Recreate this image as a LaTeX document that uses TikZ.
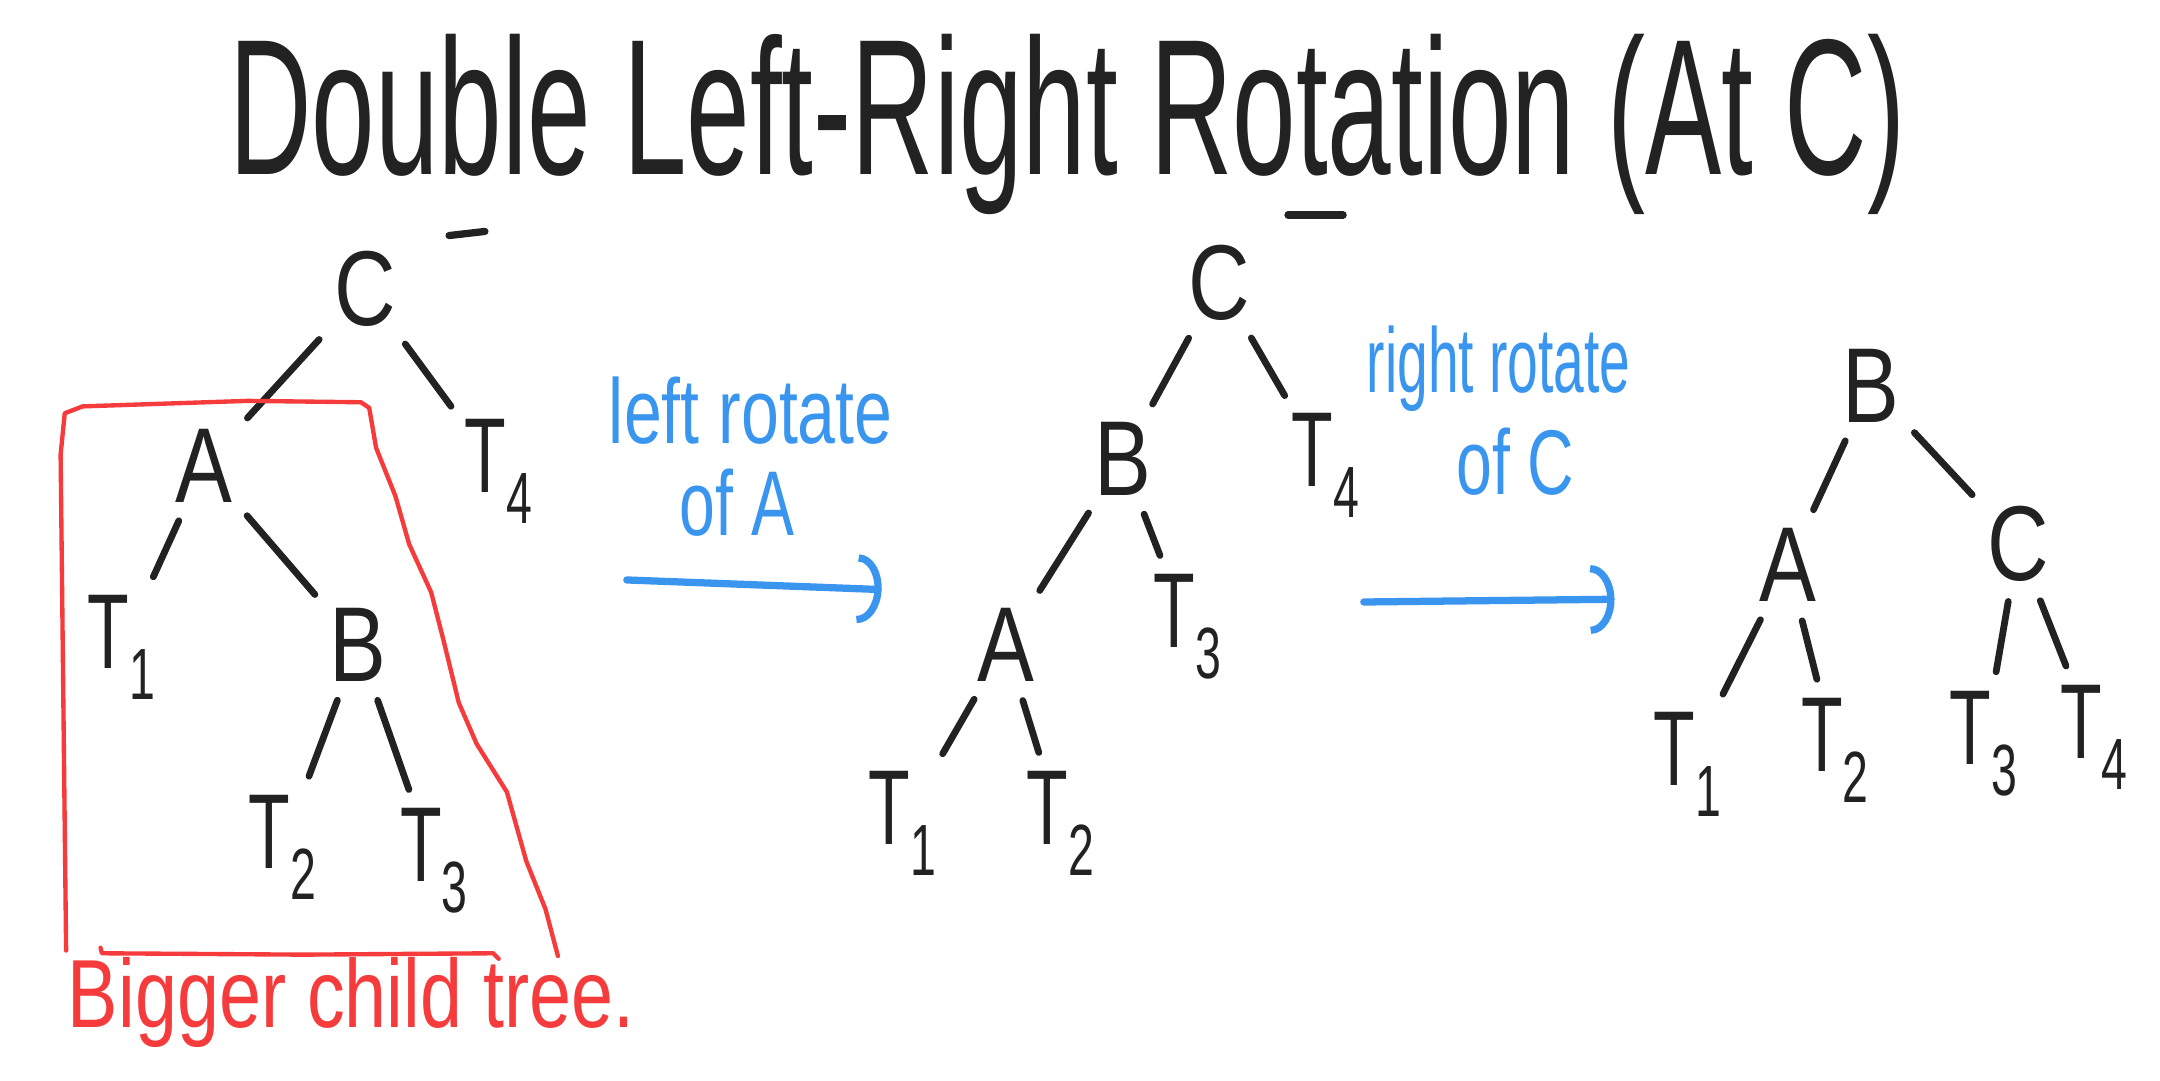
\documentclass[tikz,border=0pt]{standalone}
\usepackage{fontspec}
\setmainfont{Liberation Sans}
\usetikzlibrary{arrows.meta}
\definecolor{ink}{HTML}{222222}
\definecolor{penblue}{HTML}{3A95EE}
\definecolor{penred}{HTML}{F53B3B}
\tikzstyle{key} = [inner sep=2pt, text=ink, font=\fontsize{44}{44}\selectfont]
\tikzstyle{edge} = [draw=ink, line width=2.8pt, line cap=round, shorten >=6pt, shorten <=6pt]
\tikzstyle{note} = [text=penblue, font=\fontsize{38}{38}\selectfont]
\tikzstyle{flow} = [draw=penblue, line width=3pt, line cap=round, -{Arc Barb[length=0.35cm, width=1.0cm, line width=3pt]}]
\tikzstyle{frame} = [draw=penred, line width=1.8pt, line cap=round, line join=round]
\newcommand{\sx}[1]{\scalebox{0.8}[1]{#1}}
\newcommand{\tsub}[1]{\sx{T\raisebox{-0.55ex}{\fontsize{30}{30}\selectfont #1}}}

\begin{document}
\begin{tikzpicture}[x=0.02cm, y=-0.02cm]
		\useasboundingbox (0,0) rectangle (1568,784);
		%\draw[help lines, step=100] (0,0) grid (1568,784);
		\node[text=ink, anchor=base, font=\fontsize{80}{80}\selectfont] (title) at (775,127)
			{\scalebox{0.59}[1]{Double Left-Right Rotation (At C)}};
		\draw[ink, line width=3pt, line cap=round] (326,171) -- (352,168);
		\draw[ink, line width=3pt, line cap=round] (935,156) -- (975,156);
		% the three trees
		\foreach \n/\x/\y/\l in {c1/265/210/C, a1/148/338/A, t4a/362/342/\tsub{4}, t1a/88/470/\tsub{1},
				b1/260/468/B, t2a/205/615/\tsub{2}, t3a/315/625/\tsub{3},
				c2/885/205/C, b2/815/333/B, t4b/962/338/\tsub{4}, a2/730/468/A, t3b/862/455/\tsub{3},
				t1b/655/598/\tsub{1}, t2b/770/598/\tsub{2},
				b3/1358/280/B, a3/1298/410/A, c3/1465/395/C, t1c/1225/555/\tsub{1}, t2c/1332/545/\tsub{2},
				t3c/1440/540/\tsub{3}, t4c/1520/535/\tsub{4}}
			\node[key] (\n) at (\x,\y) {\sx{\l}};
		\foreach \a/\b in {c1/a1, c1/t4a, a1/t1a, a1/b1, b1/t2a, b1/t3a,
				c2/b2, c2/t4b, b2/a2, b2/t3b, a2/t1b, a2/t2b,
				b3/a3, b3/c3, a3/t1c, a3/t2c, c3/t3c, c3/t4c}
			\draw[edge] (\a) -- (\b);
		% bigger child tree
		\draw[frame] (48,690) -- (44,330) -- (47,300) -- (60,295) -- (180,291) -- (262,292) -- (268,296)
			-- (273,325) -- (287,360) -- (297,395) -- (313,430) -- (322,465) -- (333,510) -- (346,540)
			-- (368,575) -- (382,625) -- (396,660) -- (405,694);
		\draw[frame] (73,688) -- (74,692) -- (220,693) -- (358,692) -- (362,696);
		\node[text=penred, font=\fontsize{40}{40}\selectfont] (caption) at (255,728)
			{\scalebox{0.78}[1]{Bigger child tree.}};
		% rotations
		\node[note] (rotl) at (545,298) {\scalebox{0.74}[1]{left rotate}};
		\node[note] (rotla) at (535,365) {\scalebox{0.7}[1]{of A}};
		\node[note] (rotr) at (1088,268) {\scalebox{0.6}[1]{right rotate}};
		\node[note] (rotrc) at (1100,335) {\scalebox{0.7}[1]{of C}};
		\coordinate (l1) at (455,421);
		\coordinate (l2) at (640,428);
		\coordinate (r1) at (990,437);
		\coordinate (r2) at (1172,435);
		\draw[flow] (l1) -- (l2);
		\draw[flow] (r1) -- (r2);
	\end{tikzpicture}
\end{document}
